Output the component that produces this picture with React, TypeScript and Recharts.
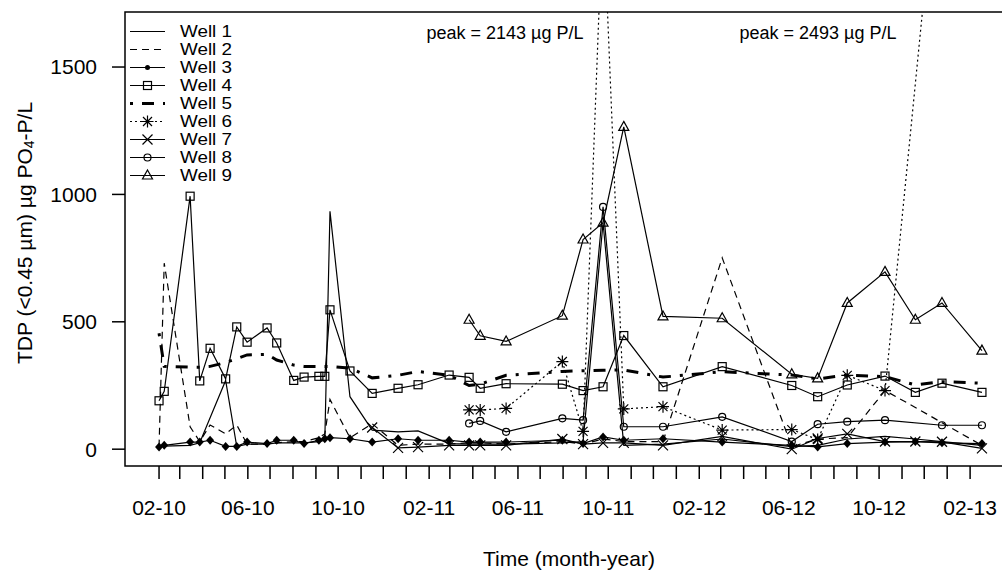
import { LineChart, Line, XAxis, YAxis, ReferenceArea } from "recharts"

// sampling dates
const sampleDates = [
  "2010-02-01", "2010-02-08", "2010-03-15", "2010-03-28", "2010-04-11", "2010-05-02",
  "2010-05-17", "2010-05-31", "2010-06-27", "2010-07-10", "2010-08-02", "2010-08-16",
  "2010-09-05", "2010-09-13", "2010-09-20", "2010-10-17", "2010-11-16", "2010-12-21",
  "2011-01-17", "2011-02-28", "2011-03-27", "2011-04-11", "2011-05-16", "2011-07-31",
  "2011-08-28", "2011-09-24", "2011-10-22", "2011-12-14", "2012-03-03", "2012-06-05",
  "2012-07-10", "2012-08-19", "2012-10-09", "2012-11-19", "2012-12-25", "2013-02-17",
]

// TDP values, µg PO4-P/L, null = not sampled
const well1 = [10, 12, 15, 25, 123, 270, 10, 20, 20, 25, 25, 25, 30, 35, 934, 206, 75, 68, 72, 22, 20, 20, 20, 25, 30, 889, 15, 20, 40, 10, 15, 40, 50, 40, 30, 15]
const well2 = [10, 730, 88, 30, 95, 60, 95, 20, 20, 25, 30, 30, 45, 60, 195, 45, 100, 15, 20, 20, 25, 25, 20, 30, 20, 40, 30, 30, 751, 10, 40, 45, 230, 164, 104, 15]
const well3 = [9, 15, 28, 28, 35, 11, 11, 28, 22, 35, 35, 22, 35, 41, 45, 41, 28, 41, 35, 35, 28, 28, 28, 35, 22, 48, 35, 41, 28, 15, 9, 22, 28, 30, 25, 22]
const well4 = [190, 227, 993, 268, 396, 276, 480, 420, 476, 417, 270, 283, 286, 286, 547, 307, 219, 239, 253, 291, 282, 239, 257, 255, 230, 245, 446, 245, 324, 250, 206, 252, 287, 223, 259, 223]
const well5 = [455, 325, 322, 322, 325, 340, 355, 370, 372, 350, 330, 325, 325, 325, 325, 318, 280, 290, 305, 290, 250, 255, 290, 305, 308, 310, 311, 283, 304, 291, 276, 291, 285, 252, 265, 259]
const well6 = [null, null, null, null, null, null, null, null, null, null, null, null, null, null, null, null, null, null, null, null, 154, 154, 160, 344, 70, 2143, 158, 167, 75, 77, 38, 290, 230, null, 2493, null]
const well7 = [null, null, null, null, null, null, null, null, null, null, null, null, null, null, null, null, 85, 5, 8, 15, 15, 15, 15, 40, 20, 25, 25, 15, 50, 0, 42, 60, 30, 30, 29, 3]
const well8 = [null, null, null, null, null, null, null, null, null, null, null, null, null, null, null, null, null, null, null, null, 101, 111, 68, 121, 114, 951, 88, 88, 127, 30, 98, 108, 114, null, 94, 94]
const well9 = [null, null, null, null, null, null, null, null, null, null, null, null, null, null, null, null, null, null, null, null, 508, 445, 423, 524, 823, 889, 1265, 521, 514, 294, 278, 574, 696, 508, 574, 387]

const yTicks = [0, 500, 1000, 1500]
const labelMonths = [2, 6, 10]
const peakLabels = ["peak = 2143 \u00b5g P/L", "peak = 2493 \u00b5g P/L"]

const FONT = "'Liberation Sans', Arial, sans-serif"
const DAY = 86400000
const T0 = Date.UTC(2010, 1, 1)

const toDay = (s: string) => {
  const [y, m, d] = s.split("-").map(Number)
  return Math.round((Date.UTC(y, m - 1, d) - T0) / DAY)
}

const monthTicks: number[] = []
for (let i = 0; i <= 36; i++) monthTicks.push(Math.round((Date.UTC(2010, 1 + i, 1) - T0) / DAY))

const formatMonth = (v: number) => {
  const d = new Date(T0 + v * DAY)
  const m = d.getUTCMonth() + 1
  if (!labelMonths.includes(m)) return ""
  return `${String(m).padStart(2, "0")}-${String(d.getUTCFullYear() % 100).padStart(2, "0")}`
}

type MarkerKind = "none" | "diamond" | "dot" | "square" | "asterisk" | "cross" | "circle" | "triangle"

type Well = {
  name: string
  values: (number | null)[]
  dash?: string
  width: number
  marker: MarkerKind
}

const wells: Well[] = [
  { name: "Well 1", values: well1, width: 1.2, marker: "none" },
  { name: "Well 2", values: well2, width: 1.2, dash: "7 5", marker: "none" },
  { name: "Well 3", values: well3, width: 1.2, marker: "diamond" },
  { name: "Well 4", values: well4, width: 1.2, marker: "square" },
  { name: "Well 5", values: well5, width: 3, dash: "3 9 12 9", marker: "none" },
  { name: "Well 6", values: well6, width: 1.2, dash: "2 3", marker: "asterisk" },
  { name: "Well 7", values: well7, width: 1.2, marker: "cross" },
  { name: "Well 8", values: well8, width: 1.2, marker: "circle" },
  { name: "Well 9", values: well9, width: 1.2, marker: "triangle" },
]

function Marker({ kind, x, y }: { kind: MarkerKind; x: number; y: number }) {
  const s = { stroke: "#000", strokeWidth: 1.2, fill: "none" }
  switch (kind) {
    case "diamond":
      return <polygon points={`${x},${y - 4.5} ${x + 4},${y} ${x},${y + 4.5} ${x - 4},${y}`} fill="#000" />
    case "dot":
      return <circle cx={x} cy={y} r={2.5} fill="#000" />
    case "square":
      return <rect x={x - 4} y={y - 4} width={8} height={8} {...s} />
    case "circle":
      return <circle cx={x} cy={y} r={3.5} {...s} />
    case "triangle":
      return <polygon points={`${x},${y - 5.5} ${x + 5},${y + 3.5} ${x - 5},${y + 3.5}`} {...s} />
    case "cross":
      return <path d={`M${x - 5},${y - 5}L${x + 5},${y + 5}M${x - 5},${y + 5}L${x + 5},${y - 5}`} {...s} />
    case "asterisk":
      return (
        <path
          d={`M${x - 6},${y}L${x + 6},${y}M${x},${y - 6}L${x},${y + 6}M${x - 4.5},${y - 4.5}L${x + 4.5},${y + 4.5}M${x - 4.5},${y + 4.5}L${x + 4.5},${y - 4.5}`}
          {...s}
        />
      )
    default:
      return null
  }
}

const X_DOMAIN: [number, number] = [-46, 1141.8]
const Y_DOMAIN: [number, number] = [-66, 1716]

export default function App() {
  return (
    <div style={{ position: "fixed", left: 0, top: 0, width: 1002, height: 578, overflow: "hidden", background: "#fff" }}>
      <LineChart width={1010} height={578} margin={{ top: 12, right: 6, bottom: 0, left: 0 }}>
        <XAxis
          type="number"
          dataKey="t"
          domain={X_DOMAIN}
          allowDataOverflow
          ticks={monthTicks}
          interval={0}
          tickFormatter={formatMonth}
          height={112}
          tickSize={13}
          tickMargin={21}
          axisLine={false}
          tickLine={{ stroke: "#000", strokeWidth: 1.5 }}
          tick={{ fill: "#000", fontSize: 21, fontFamily: FONT }}
        />
        <YAxis
          type="number"
          domain={Y_DOMAIN}
          allowDataOverflow
          ticks={yTicks}
          width={125}
          tickSize={13}
          tickMargin={15}
          axisLine={false}
          tickLine={{ stroke: "#000", strokeWidth: 1.5 }}
          tick={{ fill: "#000", fontSize: 21, fontFamily: FONT }}
        />
        {wells.map((w) => {
          const pts = sampleDates
            .map((d, i) => ({ t: toDay(d), v: w.values[i] }))
            .filter((p) => p.v !== null)
          return (
            <Line
              key={w.name}
              data={pts}
              dataKey="v"
              type="linear"
              stroke="#000"
              strokeWidth={w.width}
              strokeDasharray={w.dash}
              isAnimationActive={false}
              activeDot={false}
              dot={
                w.marker === "none"
                  ? false
                  : (p: any) => <Marker key={`${w.name}-${p.index}`} kind={w.marker} x={p.cx} y={p.cy} />
              }
            />
          )
        })}
        <ReferenceArea
          x1={X_DOMAIN[0]}
          x2={X_DOMAIN[1]}
          y1={Y_DOMAIN[0]}
          y2={Y_DOMAIN[1]}
          fill="none"
          fillOpacity={0}
          stroke="#000"
          strokeWidth={1.5}
        />
      </LineChart>
      <svg
        width={1002}
        height={578}
        style={{ position: "absolute", left: 0, top: 0, pointerEvents: "none" }}
        fontFamily={FONT}
      >
        {wells.map((w, i) => {
          const y = 31.5 + i * 18
          return (
            <g key={w.name}>
              <line x1={130} x2={165} y1={y} y2={y} stroke="#000" strokeWidth={w.width} strokeDasharray={w.dash} />
              <Marker kind={w.marker === "diamond" ? "dot" : w.marker} x={147.5} y={y} />
              <text
                x={180}
                y={y}
                dominantBaseline="central"
                fontSize={16}
                textLength={52}
                lengthAdjust="spacingAndGlyphs"
                fill="#000"
              >
                {w.name}
              </text>
            </g>
          )
        })}
        <text x={505} y={33} textAnchor="middle" dominantBaseline="central" fontSize={18} fill="#000">
          {peakLabels[0]}
        </text>
        <text x={818} y={33} textAnchor="middle" dominantBaseline="central" fontSize={18} fill="#000">
          {peakLabels[1]}
        </text>
        <text x={569} y={558} textAnchor="middle" dominantBaseline="central" fontSize={21} fill="#000">
          Time (month-year)
        </text>
        <text
          transform="translate(24,233) rotate(-90)"
          textAnchor="middle"
          dominantBaseline="central"
          fontSize={21}
          fill="#000"
        >
          TDP (&lt;0.45 {"\u00b5"}m) {"\u00b5"}g PO
          <tspan fontSize={14} dy={5}>4</tspan>
          <tspan dy={-5}>-P/L</tspan>
        </text>
      </svg>
    </div>
  )
}
